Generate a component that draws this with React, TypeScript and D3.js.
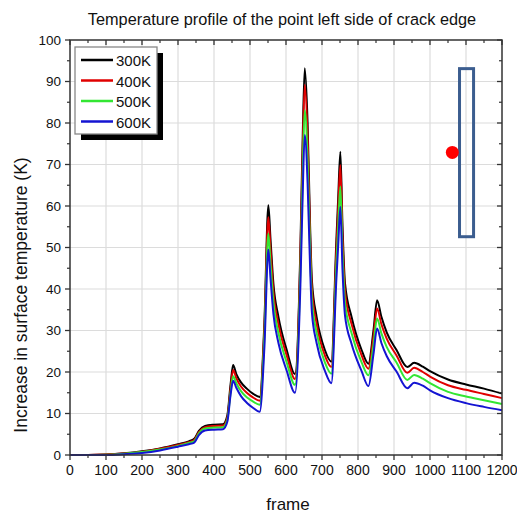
import React from "react";
import * as d3 from "d3";

const frames = [0, 50, 100, 150, 200, 250, 300, 330, 345, 358, 375, 400, 425, 437, 446, 453, 462, 475, 491, 508, 527, 540, 551, 557, 565, 579, 602, 625, 640, 646, 652, 660, 667, 672, 685, 708, 726, 740, 745, 751, 757, 764, 782, 810, 829, 843, 853, 865, 880, 907, 937, 956, 980, 1000, 1050, 1100, 1150, 1200];

const t300 = [0, 0, 0.1, 0.4, 0.9, 1.6, 2.6, 3.3, 3.9, 5.8, 7.0, 7.3, 7.4, 9.5, 17, 21.7, 19.5, 17.5, 16, 14.8, 14.0, 32, 60.2, 52, 41.3, 33.3, 25.3, 19.5, 50, 75, 93.2, 80, 55, 42, 33.3, 25.3, 22.5, 52, 62, 73.1, 55, 41.3, 33.3, 25.3, 22, 30, 37.3, 33.3, 29.5, 25.3, 21.2, 22.2, 21.3, 20.2, 18.2, 17.0, 16.0, 14.8];
const t400 = [0, 0, 0.1, 0.35, 0.8, 1.5, 2.4, 3.1, 3.6, 5.5, 6.7, 7.0, 7.1, 9.0, 16, 20.5, 18.5, 16.5, 15, 13.9, 13.1, 30.5, 57.3, 49.5, 39.3, 31.5, 24, 18.3, 48, 71.5, 89.2, 76.5, 52.5, 40, 31.6, 24, 21.2, 49.5, 59.2, 69.9, 52.5, 39.3, 31.6, 24, 20.8, 28.5, 35.3, 31.5, 28, 24, 19.8, 21, 20, 18.9, 16.8, 15.7, 14.7, 13.7];
const t500 = [0, 0, 0.05, 0.3, 0.7, 1.3, 2.2, 2.9, 3.3, 5.2, 6.4, 6.6, 6.7, 8.5, 15, 19, 17.3, 15.4, 13.9, 12.9, 12.1, 28.5, 53.3, 46, 36.8, 29.4, 22.3, 16.9, 44.5, 66.5, 83.1, 71, 49, 37.3, 29.5, 22.3, 19.6, 46, 55, 64.7, 48.7, 36.6, 29.4, 22.3, 19.2, 26.5, 32.9, 29.3, 26, 22.3, 18.1, 19.3, 18.4, 17.3, 15.2, 14.1, 13.2, 12.3];
const t600 = [0, 0, 0, 0.2, 0.5, 1.1, 2.0, 2.6, 3.0, 4.8, 5.9, 6.1, 6.2, 8.0, 14.5, 17.9, 16.2, 14.2, 12.6, 11.4, 10.4, 26, 49.5, 42.5, 34, 27, 20.3, 15.0, 41, 61.5, 77.1, 65.5, 45, 34.3, 27, 20.3, 17.3, 42.5, 50.5, 59.8, 44.5, 33.5, 26.8, 20.2, 16.6, 24.3, 30.5, 27, 23.8, 20.1, 16.1, 17.4, 16.7, 15.6, 13.7, 12.5, 11.6, 10.8];

const seriesNames = ["300K", "400K", "500K", "600K"];
const seriesValues = [t300, t400, t500, t600];
const seriesColors = ["#000000", "#e00000", "#33e633", "#1414d2"];

const xTicks = [0, 100, 200, 300, 400, 500, 600, 700, 800, 900, 1000, 1100, 1200];
const yTicks = [0, 10, 20, 30, 40, 50, 60, 70, 80, 90, 100];

const markerPoint = { frame: 1062, value: 72.9 };
const boxFrames = [1082, 1121];
const boxValues = [93.1, 52.6];

const W = 517, H = 514;
const L = 70, R = 502, T = 40, B = 455;

export default function App() {
  const x = d3.scaleLinear().domain([0, 1200]).range([L, R]);
  const y = d3.scaleLinear().domain([0, 100]).range([B, T]);
  const line = d3
    .line<number>()
    .x((_, i) => x(frames[i]))
    .y((v) => y(v))
    .curve(d3.curveMonotoneX);

  const xMinor = d3.range(50, 1200, 100);
  const yMinor = d3.range(5, 100, 10);
  const axisColor = "#333";
  const font = "Liberation Sans, Arial, sans-serif";

  return (
    <svg width={W} height={H} style={{ position: "absolute", left: 0, top: 0, background: "#fff" }} fontFamily={font}>
      <rect x={0} y={0} width={W} height={H} fill="#fff" />
      {/* grid */}
      {xTicks.slice(1, -1).map((t) => (
        <line key={"gx" + t} x1={x(t)} x2={x(t)} y1={T} y2={B} stroke="#dcdcdc" strokeWidth={1.2} />
      ))}
      {yTicks.slice(1, -1).map((t) => (
        <line key={"gy" + t} x1={L} x2={R} y1={y(t)} y2={y(t)} stroke="#dcdcdc" strokeWidth={1.2} />
      ))}
      {/* series */}
      {seriesValues.map((vals, i) => (
        <path key={seriesNames[i]} d={line(vals) || ""} fill="none" stroke={seriesColors[i]} strokeWidth={2} strokeLinejoin="round" />
      ))}
      {/* frame */}
      <rect x={L} y={T} width={R - L} height={B - T} fill="none" stroke={axisColor} strokeWidth={1.5} />
      {/* x ticks */}
      {xTicks.map((t) => (
        <g key={"xt" + t}>
          <line x1={x(t)} x2={x(t)} y1={B} y2={B + 5} stroke={axisColor} strokeWidth={1.3} />
          <line x1={x(t)} x2={x(t)} y1={T} y2={T + 5} stroke={axisColor} strokeWidth={1.3} />
          <text x={x(t)} y={B + 20} textAnchor="middle" fontSize={14} fill="#111">{t}</text>
        </g>
      ))}
      {xMinor.map((t) => (
        <g key={"xm" + t}>
          <line x1={x(t)} x2={x(t)} y1={B} y2={B + 3} stroke={axisColor} strokeWidth={1.2} />
          <line x1={x(t)} x2={x(t)} y1={T} y2={T + 3} stroke={axisColor} strokeWidth={1.2} />
        </g>
      ))}
      {/* y ticks */}
      {yTicks.map((t) => (
        <g key={"yt" + t}>
          <line x1={L - 5} x2={L} y1={y(t)} y2={y(t)} stroke={axisColor} strokeWidth={1.3} />
          <line x1={R - 5} x2={R} y1={y(t)} y2={y(t)} stroke={axisColor} strokeWidth={1.3} />
          <text x={L - 9} y={y(t) + 4.5} textAnchor="end" fontSize={13.5} fill="#111">{t}</text>
        </g>
      ))}
      {yMinor.map((t) => (
        <g key={"ym" + t}>
          <line x1={L - 3} x2={L} y1={y(t)} y2={y(t)} stroke={axisColor} strokeWidth={1.2} />
          <line x1={R - 3} x2={R} y1={y(t)} y2={y(t)} stroke={axisColor} strokeWidth={1.2} />
        </g>
      ))}
      {/* titles */}
      <text x={282} y={25} textAnchor="middle" fontSize={16.3} fill="#111">
        Temperature profile of the point left side of crack edge
      </text>
      <text x={288} y={510} textAnchor="middle" fontSize={17} fill="#111">frame</text>
      <text transform={`translate(27,295) rotate(-90)`} textAnchor="middle" fontSize={17.5} fill="#111">
        Increase in surface temperature (K)
      </text>
      {/* legend */}
      <rect x={81} y={53} width={82} height={87} fill="#000" />
      <rect x={75} y={47} width={82} height={87} fill="#fff" stroke="#888" strokeWidth={1.3} />
      {seriesNames.map((n, i) => (
        <g key={"lg" + n}>
          <line x1={81} x2={113} y1={60 + i * 20.5} y2={60 + i * 20.5} stroke={seriesColors[i]} strokeWidth={2.5} />
          <text x={116} y={66 + i * 20.5} fontSize={15} fill="#111">{n}</text>
        </g>
      ))}
      {/* annotations */}
      <rect
        x={x(boxFrames[0])}
        y={y(boxValues[0])}
        width={x(boxFrames[1]) - x(boxFrames[0])}
        height={y(boxValues[1]) - y(boxValues[0])}
        fill="none"
        stroke="#3b5d8f"
        strokeWidth={3}
      />
      <circle cx={x(markerPoint.frame)} cy={y(markerPoint.value)} r={6.5} fill="#ff0000" />
    </svg>
  );
}
